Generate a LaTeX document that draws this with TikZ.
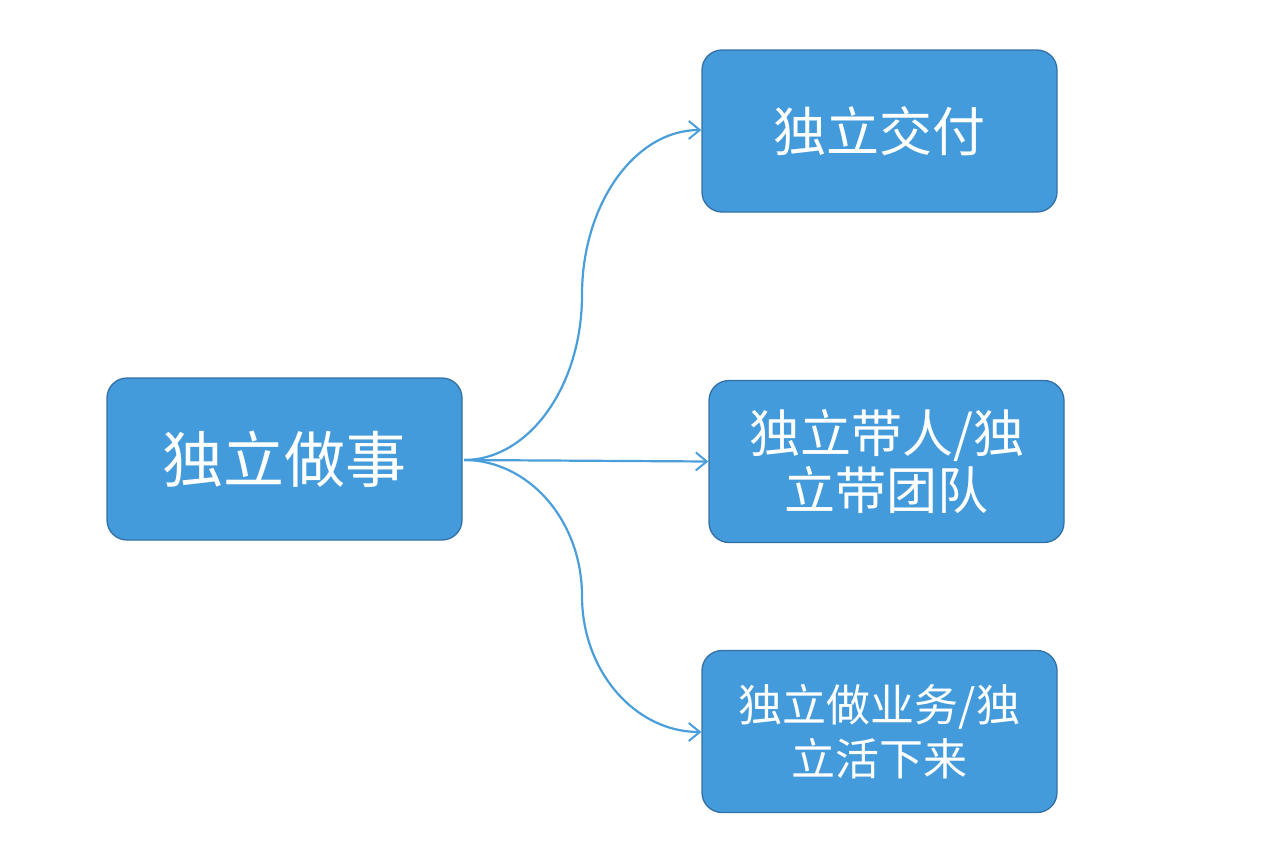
\documentclass[tikz,border=0pt]{standalone}
\usepackage{fontspec}
\newfontfamily\cjk{Noto Sans CJK SC}
\usetikzlibrary{arrows.meta}
\definecolor{boxfill}{RGB}{68,155,219}
\definecolor{boxedge}{RGB}{52,112,165}
\definecolor{linkcol}{RGB}{74,158,218}
\begin{document}
\begin{tikzpicture}[x=1pt,y=-1pt,
  box/.style={draw=boxedge,line width=1.3pt,fill=boxfill,rounded corners=20pt,
    minimum width=355pt,minimum height=162pt,text=white,align=center,inner sep=0pt,font=\cjk},
  link/.style={draw=linkcol,line width=2.2pt,-{Straight Barb[length=11pt,width=18pt,line width=2pt]}}]
\useasboundingbox (0,0) rectangle (1262,862);
\node[box,font=\cjk\fontsize{61}{66}\selectfont] (root) at (284.5,459) {独立做事};
\node[box,font=\cjk\fontsize{53}{60}\selectfont] (a) at (879.5,131) {独立交付};
\node[box,font=\cjk\fontsize{51}{57}\selectfont] (b) at (886.5,461.5) {独立带人/独\\立带团队};
\node[box,font=\cjk\fontsize{44}{54}\selectfont] (c) at (879.5,731.5) {独立做业务/独\\立活下来};
\coordinate (s) at (464,460);
\coordinate (m1) at (582,295);
\coordinate (m2) at (582,596);
\draw[link] (s) .. controls (529,460) and (582,386) .. (m1)
  .. controls (582,204) and (635,130) .. (a.west |- 0,130);
\draw[link] (s) -- (b.west);
\draw[link] (s) .. controls (529,460) and (582,521) .. (m2)
  .. controls (582,671) and (635,732) .. (c.west |- 0,732);
\end{tikzpicture}
\end{document}
